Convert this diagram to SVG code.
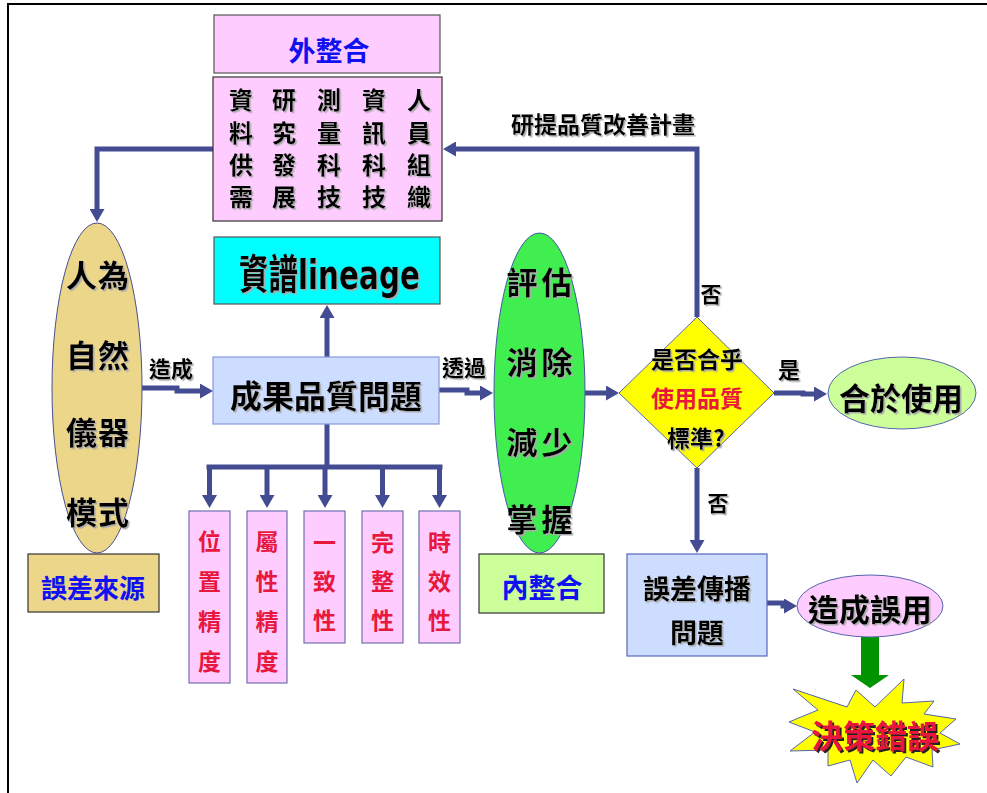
<svg xmlns="http://www.w3.org/2000/svg" width="987" height="793" viewBox="0 0 987 793">
<defs>
<marker id="ah" viewBox="0 0 13 15" markerWidth="13" markerHeight="15" refX="3" refY="7.5" orient="auto" markerUnits="userSpaceOnUse">
<path d="M0,0 L13,7.5 L0,15 z" fill="#434C92"/>
</marker>
<filter id="sh" x="-10%" y="-10%" width="130%" height="130%">
<feDropShadow dx="1.5" dy="1.5" stdDeviation="0.4" flood-color="#aaaaaa"/>
</filter>
<filter id="shd" x="-10%" y="-10%" width="130%" height="130%">
<feDropShadow dx="2" dy="2" stdDeviation="0.4" flood-color="#222222"/>
</filter>
</defs>
<style>
text{font-family:"Noto Sans CJK TC","Noto Sans CJK SC",sans-serif;font-weight:700;text-anchor:middle;dominant-baseline:central;fill:#000}
.blue{fill:#1010F0}
.red{fill:#E8173C}
.con{fill:none;stroke:#434C92;stroke-width:5}
.box{stroke-width:1.2}
</style>
<rect x="8" y="4" width="1000" height="800" fill="#fff" stroke="#000" stroke-width="2"/>

<g id="connectors">
<path class="con" d="M213,149 H97 V212" marker-end="url(#ah)"/>
<path class="con" d="M697,317 V149 H453" marker-end="url(#ah)"/>
<path class="con" d="M142,388 H177 V391 H203" marker-end="url(#ah)"/>
<path class="con" d="M327,357 V315" marker-end="url(#ah)"/>
<path class="con" d="M439,390 H467 V393 H483" marker-end="url(#ah)"/>
<path class="con" d="M585,393 H609" marker-end="url(#ah)"/>
<path class="con" d="M774,393 H803 V394 H817" marker-end="url(#ah)"/>
<path class="con" d="M697,468 V543" marker-end="url(#ah)"/>
<path class="con" d="M767,603 H783 V606 H787" marker-end="url(#ah)"/>
<path class="con" d="M327,424 V467" stroke-width="6"/>
<path class="con" d="M206.5,467 H442.5" stroke-width="6"/>
<path class="con" d="M209.5,467 V498" marker-end="url(#ah)"/>
<path class="con" d="M267,467 V498" marker-end="url(#ah)"/>
<path class="con" d="M325,467 V498" marker-end="url(#ah)"/>
<path class="con" d="M382.5,467 V498" marker-end="url(#ah)"/>
<path class="con" d="M439.5,467 V498" marker-end="url(#ah)"/>
<polygon points="861,637 879,637 879,675 889,675 870,688 851,675 861,675" fill="#009400"/>
<text x="171" y="367" font-size="22" filter="url(#sh)">造成</text>
<text x="464" y="366" font-size="22" filter="url(#sh)">透過</text>
<text x="603" y="123" font-size="23" filter="url(#sh)">研提品質改善計畫</text>
<text x="711" y="293" font-size="21" filter="url(#sh)">否</text>
<text x="718" y="502" font-size="21" filter="url(#sh)">否</text>
<text x="789" y="368" font-size="22" filter="url(#sh)">是</text>
</g>

<g id="outer-integration">
<rect class="box" x="214" y="15" width="226" height="58" fill="#FFCCFF" stroke="#555"/>
<text class="blue" x="329" y="49" font-size="27">外整合</text>
</g>

<g id="resources">
<rect class="box" x="213" y="77" width="229" height="144" fill="#FFCCFF" stroke="#333"/>
<g font-size="24" filter="url(#sh)">
<text x="241" y="98">資</text><text x="284" y="98">研</text><text x="329" y="98">測</text><text x="374" y="98">資</text><text x="419" y="98">人</text>
<text x="241" y="131">料</text><text x="284" y="131">究</text><text x="329" y="131">量</text><text x="374" y="131">訊</text><text x="419" y="131">員</text>
<text x="241" y="163">供</text><text x="284" y="163">發</text><text x="329" y="163">科</text><text x="374" y="163">科</text><text x="419" y="163">組</text>
<text x="241" y="195">需</text><text x="284" y="195">展</text><text x="329" y="195">技</text><text x="374" y="195">技</text><text x="419" y="195">織</text>
</g>
</g>

<g id="error-sources">
<ellipse cx="97" cy="388" rx="45" ry="165" fill="#EBD68A" stroke="#4A4F8F" stroke-width="1"/>
<g font-size="31" filter="url(#sh)" letter-spacing="1">
<text x="98" y="273">人為</text>
<text x="98" y="353">自然</text>
<text x="98" y="430">儀器</text>
<text x="98" y="510">模式</text>
</g>
</g>

<g id="error-source-label">
<rect class="box" x="28" y="554" width="131" height="58" fill="#EBD68A" stroke="#333"/>
<text class="blue" x="93" y="586" font-size="26">誤差來源</text>
</g>

<g id="lineage">
<rect class="box" x="214" y="237" width="226" height="67" fill="#00FFFF" stroke="#555"/>
<text x="239" y="289" font-size="41" textLength="181" lengthAdjust="spacingAndGlyphs" style="font-family:'DejaVu Sans','Noto Sans CJK TC',sans-serif;text-anchor:start;dominant-baseline:alphabetic" filter="url(#sh)">資譜lineage</text>
</g>

<g id="quality-problem">
<rect class="box" x="213" y="357" width="226" height="67" fill="#CCDDFF" stroke="#8899DD"/>
<text x="326" y="394" font-size="32" filter="url(#sh)">成果品質問題</text>
</g>

<g id="positional-accuracy">
<rect class="box" x="189" y="511" width="41" height="172" fill="#FFCCFF" stroke="#7070B0"/>
<g font-size="23"><text class="red" x="209.5" y="540">位</text><text class="red" x="209.5" y="580">置</text><text class="red" x="209.5" y="620">精</text><text class="red" x="209.5" y="660">度</text></g>
</g>
<g id="attribute-accuracy">
<rect class="box" x="247" y="511" width="40" height="172" fill="#FFCCFF" stroke="#7070B0"/>
<g font-size="23"><text class="red" x="267" y="540">屬</text><text class="red" x="267" y="580">性</text><text class="red" x="267" y="620">精</text><text class="red" x="267" y="660">度</text></g>
</g>
<g id="consistency">
<rect class="box" x="304" y="511" width="41" height="132" fill="#FFCCFF" stroke="#7070B0"/>
<g font-size="23"><text class="red" x="324.5" y="541">一</text><text class="red" x="324.5" y="580">致</text><text class="red" x="324.5" y="619">性</text></g>
</g>
<g id="completeness">
<rect class="box" x="362" y="511" width="41" height="132" fill="#FFCCFF" stroke="#7070B0"/>
<g font-size="23"><text class="red" x="382.5" y="541">完</text><text class="red" x="382.5" y="580">整</text><text class="red" x="382.5" y="619">性</text></g>
</g>
<g id="timeliness">
<rect class="box" x="419" y="511" width="41" height="132" fill="#FFCCFF" stroke="#7070B0"/>
<g font-size="23"><text class="red" x="439.5" y="541">時</text><text class="red" x="439.5" y="580">效</text><text class="red" x="439.5" y="619">性</text></g>
</g>

<g id="evaluate">
<ellipse cx="539.5" cy="393" rx="45.5" ry="160" fill="#40EE50" stroke="#4455AA" stroke-width="1"/>
<g font-size="31" filter="url(#sh)" letter-spacing="4">
<text x="541.5" y="280">評估</text>
<text x="541.5" y="360">消除</text>
<text x="541.5" y="440">減少</text>
<text x="541.5" y="517">掌握</text>
</g>
</g>

<g id="inner-integration">
<rect class="box" x="479" y="554" width="125" height="59" fill="#CCFF99" stroke="#333"/>
<text class="blue" x="542" y="586" font-size="27">內整合</text>
</g>

<g id="decision">
<polygon points="697,317 774,393 697,468 619,393" fill="#FFFF00" stroke="#5566AA" stroke-width="1"/>
<text x="697" y="358" font-size="23" filter="url(#sh)">是否合乎</text>
<text class="red" x="697" y="397" font-size="23">使用品質</text>
<text x="696" y="437" font-size="23" filter="url(#sh)">標準?</text>
</g>

<g id="fit-for-use">
<ellipse cx="902" cy="393" rx="74" ry="36" fill="#CCFF99" stroke="#5566AA" stroke-width="1"/>
<text x="901" y="396" font-size="31" filter="url(#sh)">合於使用</text>
</g>

<g id="error-propagation">
<rect class="box" x="627" y="554" width="140" height="102" fill="#CCDDFF" stroke="#5566BB"/>
<text x="697" y="587" font-size="27" filter="url(#sh)">誤差傳播</text>
<text x="697" y="631" font-size="27" filter="url(#sh)">問題</text>
</g>

<g id="misuse">
<ellipse cx="870" cy="606" rx="73" ry="31" fill="#FFCCFF" stroke="#5566AA" stroke-width="1"/>
<text x="870" y="607" font-size="31" filter="url(#sh)">造成誤用</text>
</g>

<g id="decision-error">
<polygon points="793,689 847,707 856,690 875,707 904,679 902,703 934,701 924,714 956,719 940,733 960,744 932,750 933,767 906,757 891,776 873,760 857,783 850,760 828,766 828,750 790,751 815,732 789,722 818,710" fill="#FFFF00" stroke="#5566AA" stroke-width="1"/>
<text class="red" x="875" y="734" font-size="32" filter="url(#shd)">決策錯誤</text>
</g>
</svg>
